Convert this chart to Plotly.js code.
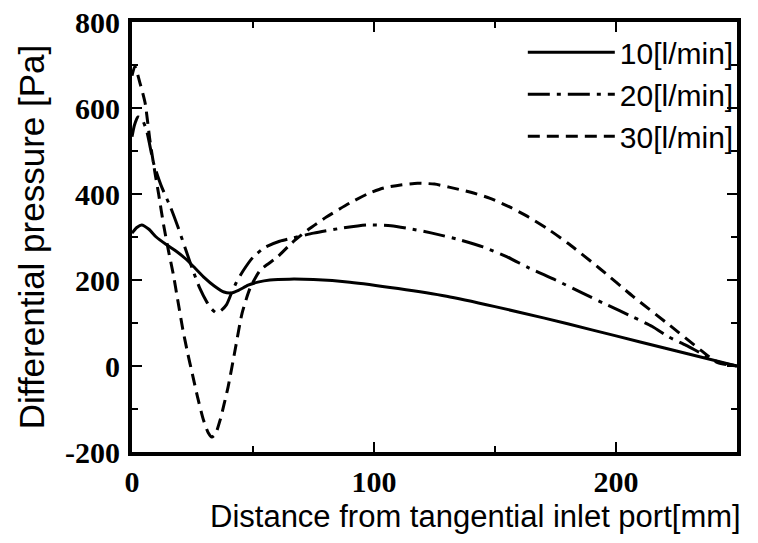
<!DOCTYPE html>
<html>
<head>
<meta charset="utf-8">
<script src="https://cdn.plot.ly/plotly-3.0.1.min.js"></script>
<style>html,body{margin:0;padding:0;background:#fff;}#chart{width:758px;height:543px;}</style>
</head>
<body>
<div id="chart"></div>
<script>
// Series names
const seriesNames = ["10[l/min]", "20[l/min]", "30[l/min]"];

// 10 l/min (solid)
const x10 = [0, 2, 4, 7, 10, 14, 18, 22, 26, 30, 34, 38, 41, 44, 48, 52, 57, 65, 75, 90, 110, 130, 150, 170, 190, 210, 230, 250];
const y10 = [309, 322, 328, 318, 300, 283, 268, 250, 228, 205, 186, 172, 170, 176, 188, 195, 200, 202, 201, 195, 180, 162, 138, 112, 84, 56, 28, 0];

// 20 l/min (dash-dot)
const x20 = [0, 1, 2.5, 4, 6, 9, 12, 16, 19, 22, 25, 28, 31, 33, 35, 37, 39, 41, 43, 46, 50, 55, 61, 66, 75, 86, 97, 107, 116, 124, 135, 145, 155, 164, 175, 186, 196, 207, 215, 222, 229, 235, 242, 250];
const y20 = [533, 560, 579, 575, 548, 470, 420, 368, 323, 274, 225, 181, 148, 132, 123, 130, 142, 168, 193, 222, 253, 276, 290, 297, 309, 320, 328, 326, 318, 309, 294, 277, 254, 228, 200, 170, 143, 114, 92, 67, 48, 30, 10, 0];

// 30 l/min (dashed)
const x30 = [0, 1.2, 3.3, 5.4, 7.4, 9.5, 11, 13, 15, 17, 19, 21, 23, 25, 27, 29.5, 31.5, 33, 34.5, 36.4, 38, 39.7, 42.6, 45.5, 48.8, 53, 60, 66, 73, 80.5, 90, 98, 104, 111, 118, 125, 131, 140, 148, 156, 164, 172, 180, 193, 207, 221, 235, 242, 250];
const y30 = [675, 697, 658, 612, 525, 449, 400, 330, 270, 215, 150, 85, 30, -20, -70, -125, -155, -165, -158, -126, -90, -49, 37, 123, 181, 223, 253, 286, 318, 347, 379, 402, 414, 421, 425, 423, 416, 404, 390, 370, 346, 318, 286, 228, 162, 100, 37, 8, 0];

// Axis labels
const xTitle = "Distance from tangential inlet port[mm]";
const yTitle = "Differential pressure [Pa]";
const xTickVals = [0, 100, 200];
const yTickVals = [-200, 0, 200, 400, 600, 800];

const lineStyle = (dash) => ({color: "#000", width: 3, dash: dash, shape: "spline", smoothing: 0.6});

const traces = [
  {x: x10, y: y10, name: seriesNames[0], mode: "lines", line: lineStyle("solid")},
  {x: x20, y: y20, name: seriesNames[1], mode: "lines", line: lineStyle("22px,7px,4px,7px")},
  {x: x30, y: y30, name: seriesNames[2], mode: "lines", line: lineStyle("12px,7px")}
];

const axisCommon = {
  showline: true, linecolor: "#000", linewidth: 4, mirror: "ticks",
  ticks: "inside", ticklen: 10, tickwidth: 2, tickcolor: "#000",
  showgrid: false, zeroline: false,
  tickfont: {family: "Liberation Serif, Times New Roman, serif", size: 30, color: "#000", weight: "bold"},
  minor: {ticks: "inside", ticklen: 6, tickwidth: 2, tickcolor: "#000", showgrid: false}
};

const layout = {
  width: 758, height: 543,
  margin: {l: 132, r: 21, t: 22, b: 91},
  paper_bgcolor: "#fff", plot_bgcolor: "#fff",
  showlegend: true,
  xaxis: Object.assign({}, axisCommon, {
    range: [0, 250], tickmode: "array", tickvals: xTickVals, ticktext: xTickVals.map(String),
    minor: Object.assign({}, axisCommon.minor, {dtick: 50, tick0: 0}),
    title: {text: ""}
  }),
  yaxis: Object.assign({}, axisCommon, {
    range: [-200, 800], tickmode: "array", tickvals: yTickVals, ticktext: yTickVals.map(String),
    minor: Object.assign({}, axisCommon.minor, {dtick: 100, tick0: 0}),
    ticklabelstandoff: 2,
    title: {text: yTitle, font: {family: "Liberation Sans, Arial, sans-serif", size: 35, color: "#000"}, standoff: 11}
  }),
  legend: {
    x: 1.003, xanchor: "right", y: 0.99, yanchor: "top",
    bgcolor: "rgba(0,0,0,0)", borderwidth: 0,
    font: {family: "Liberation Sans, Arial, sans-serif", size: 30, color: "#000"},
    itemwidth: 87, tracegroupgap: 0
  },
  annotations: [{
    text: xTitle, xref: "paper", yref: "paper", x: 0.567, y: 0, yshift: -64,
    xanchor: "center", yanchor: "middle", showarrow: false,
    font: {family: "Liberation Sans, Arial, sans-serif", size: 31, color: "#000"}
  }]
};

Plotly.newPlot("chart", traces, layout, {displayModeBar: false, staticPlot: true});
</script>
</body>
</html>
